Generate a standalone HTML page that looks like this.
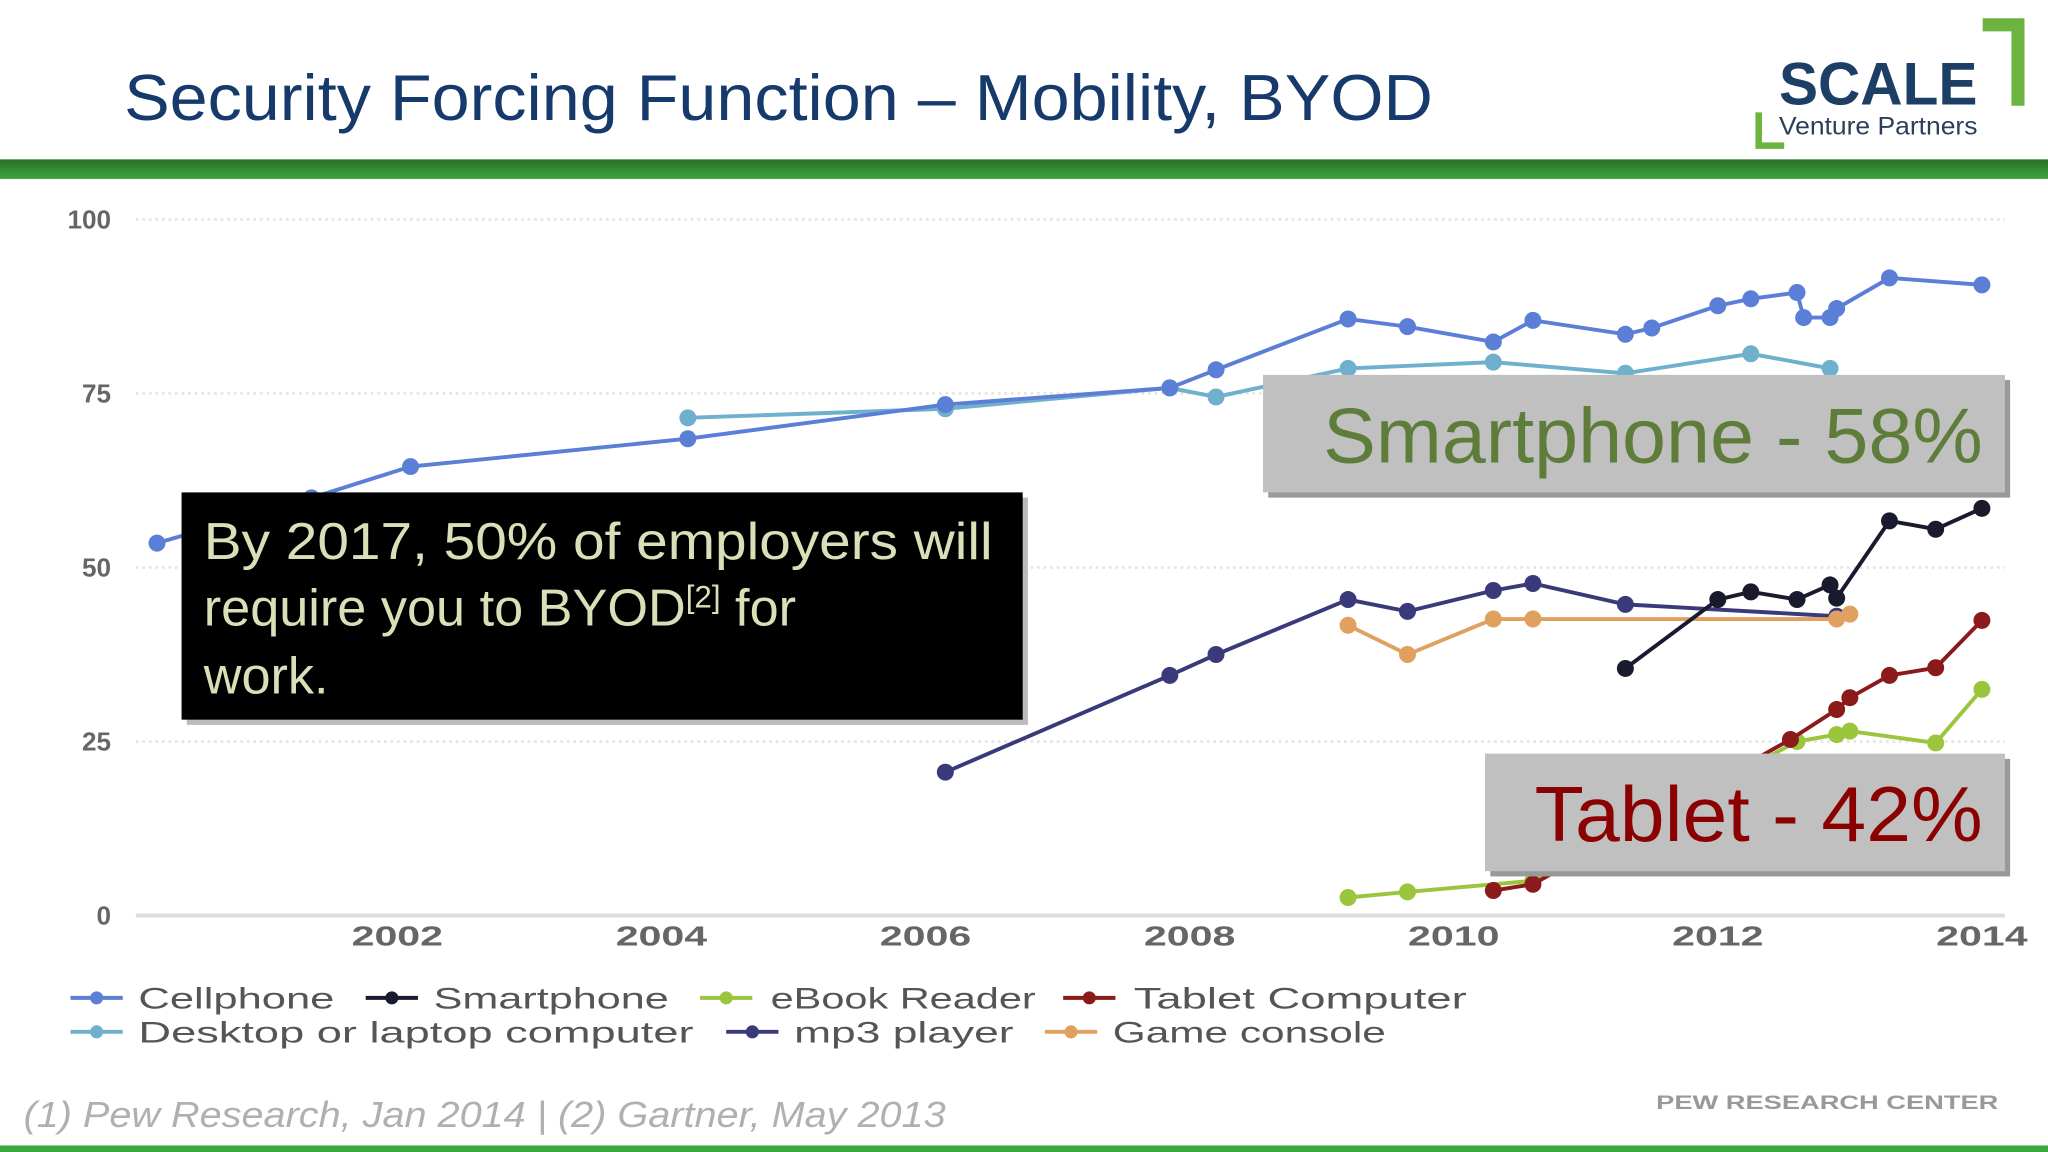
<!DOCTYPE html>
<html><head><meta charset="utf-8"><style>
html,body{margin:0;padding:0;background:#fff;overflow:hidden}
svg{display:block;font-family:"Liberation Sans",sans-serif}
</style></head><body>
<svg id="s" width="2048" height="1152" viewBox="0 0 1568 882">
<rect width="1568" height="882" fill="#fff"/>
<text x="95" y="92" font-size="50" fill="#163a6b" textLength="1002" lengthAdjust="spacingAndGlyphs">Security Forcing Function – Mobility, BYOD</text>
<g>
<path d="M1518 14h32v67h-10v-57h-22z" fill="#6db33f"/>
<text x="1362" y="80" font-size="46" font-weight="bold" fill="#1d3f66" textLength="152" lengthAdjust="spacingAndGlyphs">SCALE</text>
<path d="M1344 86v28h22v-5h-17v-23z" fill="#6db33f"/>
<text x="1362" y="103" font-size="19" fill="#2a3f5a" textLength="152" lengthAdjust="spacingAndGlyphs">Venture Partners</text>
</g>
<defs><linearGradient id="gb" x1="0" y1="0" x2="0" y2="1"><stop offset="0" stop-color="#2b6e2b"/><stop offset="1" stop-color="#3ba63b"/></linearGradient></defs>
<rect x="0" y="122" width="1568" height="15" fill="url(#gb)"/>
<rect x="0" y="877" width="1568" height="5" fill="#3ba63b"/>
<g id="chart"></g>
<g font-size="23" fill="#555">
<g><line x1="54" y1="764" x2="94" y2="764" stroke="#5b7fd6" stroke-width="3"/><circle cx="74" cy="764" r="5" fill="#5b7fd6"/><text x="106" y="772" textLength="150" lengthAdjust="spacingAndGlyphs">Cellphone</text></g>
<g><line x1="280" y1="764" x2="320" y2="764" stroke="#1a1a2e" stroke-width="3"/><circle cx="300" cy="764" r="5" fill="#1a1a2e"/><text x="332" y="772" textLength="180" lengthAdjust="spacingAndGlyphs">Smartphone</text></g>
<g><line x1="536" y1="764" x2="576" y2="764" stroke="#9bc53d" stroke-width="3"/><circle cx="556" cy="764" r="5" fill="#9bc53d"/><text x="590" y="772" textLength="203" lengthAdjust="spacingAndGlyphs">eBook Reader</text></g>
<g><line x1="814" y1="764" x2="854" y2="764" stroke="#8b1a1a" stroke-width="3"/><circle cx="834" cy="764" r="5" fill="#8b1a1a"/><text x="868" y="772" textLength="255" lengthAdjust="spacingAndGlyphs">Tablet Computer</text></g>
<g><line x1="54" y1="790" x2="94" y2="790" stroke="#6fb0cc" stroke-width="3"/><circle cx="74" cy="790" r="5" fill="#6fb0cc"/><text x="106" y="798" textLength="425" lengthAdjust="spacingAndGlyphs">Desktop or laptop computer</text></g>
<g><line x1="556" y1="790" x2="596" y2="790" stroke="#3a3a7a" stroke-width="3"/><circle cx="576" cy="790" r="5" fill="#3a3a7a"/><text x="608" y="798" textLength="168" lengthAdjust="spacingAndGlyphs">mp3 player</text></g>
<g><line x1="800" y1="790" x2="840" y2="790" stroke="#e0a060" stroke-width="3"/><circle cx="820" cy="790" r="5" fill="#e0a060"/><text x="852" y="798" textLength="209" lengthAdjust="spacingAndGlyphs">Game console</text></g>
</g>
<text x="18" y="863" font-size="28" font-style="italic" fill="#b0b0b0" textLength="706" lengthAdjust="spacingAndGlyphs">(1) Pew Research, Jan 2014 | (2) Gartner, May 2013</text>
<text x="1268" y="849" font-size="15" font-weight="bold" fill="#999" textLength="262" lengthAdjust="spacingAndGlyphs">PEW RESEARCH CENTER</text>
<g>
<rect x="143" y="381" width="644" height="174" fill="#bbb"/>
<rect x="139" y="377" width="644" height="174" fill="#000"/>
<text font-size="40" fill="#d8e0b8"><tspan x="156" y="428" textLength="604" lengthAdjust="spacingAndGlyphs">By 2017, 50% of employers will</tspan></text>
<text font-size="40" fill="#d8e0b8"><tspan x="156" y="479">require you to BYOD<tspan font-size="24" dy="-14">[2]</tspan><tspan dy="14"> for</tspan></tspan><tspan x="156" y="531">work.</tspan></text>
</g>
<g>
<rect x="971" y="291" width="568" height="90" fill="#999"/>
<rect x="967" y="287" width="568" height="90" fill="#c0c0c0"/>
<text x="1013" y="354" font-size="60" fill="#5e7d3a" textLength="505" lengthAdjust="spacingAndGlyphs">Smartphone - 58%</text>
</g>
<g>
<rect x="1141" y="581" width="398" height="90" fill="#999"/>
<rect x="1137" y="577" width="398" height="90" fill="#c0c0c0"/>
<text x="1175" y="644" font-size="60" fill="#8b0000" textLength="343" lengthAdjust="spacingAndGlyphs">Tablet - 42%</text>
</g>
</svg>
<script>
const yTicks=[0,25,50,75,100];
const xTicks=[2002,2004,2006,2008,2010,2012,2014];
const cellX=[2000.18,2001.35,2002.1,2004.2,2006.15,2007.85,2008.2,2009.2,2009.65,2010.3,2010.6,2011.3,2011.5,2012.0,2012.25,2012.6,2012.65,2012.85,2012.9,2013.3,2014.0];
const cellY=[53.5,60,64.5,68.5,73.4,75.8,78.4,85.7,84.6,82.4,85.5,83.5,84.4,87.6,88.6,89.5,85.9,85.9,87.2,91.6,90.6];
const deskX=[2004.2,2006.15,2007.85,2008.2,2009.2,2010.3,2011.3,2012.25,2012.85];
const deskY=[71.5,72.8,75.8,74.5,78.6,79.5,77.9,80.7,78.6];
const mp3X=[2006.15,2007.85,2008.2,2009.2,2009.65,2010.3,2010.6,2011.3,2012.9];
const mp3Y=[20.6,34.5,37.5,45.4,43.7,46.7,47.7,44.7,43.0];
const gameX=[2009.2,2009.65,2010.3,2010.6,2012.9,2013.0];
const gameY=[41.7,37.5,42.6,42.6,42.6,43.3];
const smartX=[2011.3,2012.0,2012.25,2012.6,2012.85,2012.9,2013.3,2013.65,2014.0];
const smartY=[35.5,45.4,46.5,45.4,47.5,45.6,56.7,55.5,58.5];
const ebookX=[2009.2,2009.65,2010.6,2012.6,2012.9,2013.0,2013.65,2014.0];
const ebookY=[2.6,3.4,5,25,26,26.5,24.8,32.5];
const tabX=[2010.3,2010.6,2012.55,2012.9,2013.0,2013.3,2013.65,2014.0];
const tabY=[3.6,4.5,25.3,29.6,31.3,34.5,35.6,42.4];
const series=[
 ['desktop',deskX,deskY,'#6fb0cc'],['cellphone',cellX,cellY,'#5b7fd6'],['mp3-player',mp3X,mp3Y,'#3a3a7a'],
 ['game-console',gameX,gameY,'#e0a060'],['smartphone',smartX,smartY,'#1a1a2e'],['ebook-reader',ebookX,ebookY,'#9bc53d'],['tablet',tabX,tabY,'#8b1a1a']];
const NS='http://www.w3.org/2000/svg';
const g=document.getElementById('chart');
const xs=v=>102+(v-2000)*101.1;
const ys=v=>701-v*5.33;
function mk(t,a,p){const e=document.createElementNS(NS,t);for(const k in a)e.setAttribute(k,a[k]);(p||g).appendChild(e);return e;}
yTicks.forEach(t=>{
 const l=mk('line',{x1:104,x2:1535,y1:ys(t),y2:ys(t),stroke:t===0?'#ddd':'#e4e4e4','stroke-width':t===0?3:2,'stroke-dasharray':t===0?'':'2,3'});
 
 
 const tx=mk('text',{x:85,y:ys(t)+7,'text-anchor':'end','font-size':20,fill:'#666','font-weight':'bold'});tx.textContent=t;
 
 
});
xTicks.forEach(t=>{
 const tx=mk('text',{x:xs(t),y:724,'text-anchor':'middle','font-size':21,fill:'#666','font-weight':'bold',textLength:70,lengthAdjust:'spacingAndGlyphs'});tx.textContent=t;
 
 
});
series.forEach(([n,X,Y,c])=>{
 const sg=mk('g',{});
 
 
 const pl=mk('polyline',{points:X.map((x,i)=>xs(x)+','+ys(Y[i])).join(' '),fill:'none',stroke:c,'stroke-width':3},sg);
 
 
 X.forEach((x,i)=>{const p=mk('circle',{cx:xs(x),cy:ys(Y[i]),r:6.5,fill:c},sg);
  
  });
});
</script>
</body></html>
